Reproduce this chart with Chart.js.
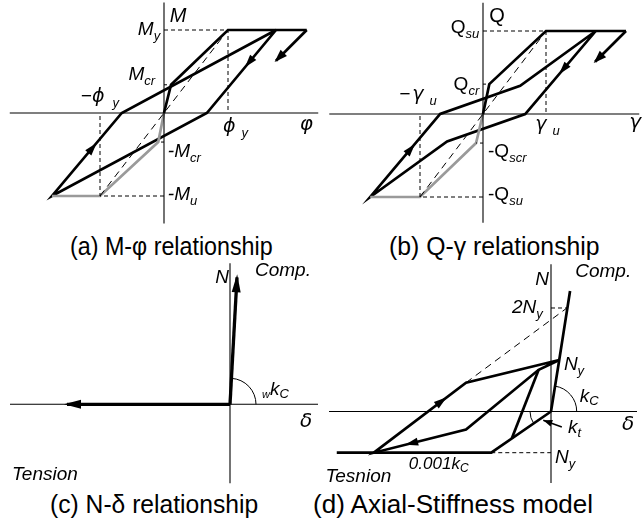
<!DOCTYPE html>
<html>
<head>
<meta charset="utf-8">
<script src="https://cdn.jsdelivr.net/npm/chart.js@4.4.0/dist/chart.umd.min.js"></script>
<style>
  body { margin: 0; background: #fff; width: 644px; height: 527px; position: relative; overflow: hidden; }
  canvas { position: absolute; }
  .cap { position: absolute; font: 25px "Liberation Sans", Arial, sans-serif; line-height: 25px; white-space: nowrap; color: #000; }
</style>
</head>
<body>
<canvas id="pa" width="322" height="230" style="left:0;top:0"></canvas>
<canvas id="pb" width="322" height="230" style="left:322px;top:0"></canvas>
<canvas id="pc" width="322" height="223" style="left:0;top:262px"></canvas>
<canvas id="pd" width="322" height="223" style="left:322px;top:262px"></canvas>
<div class="cap" data-cx="171.5" data-w="203" style="top:234px">(a) M-φ relationship</div>
<div class="cap" data-cx="494.5" data-w="211" style="top:234px">(b) Q-γ relationship</div>
<div class="cap" data-cx="154" data-w="208" style="top:492px">(c) N-δ relationship</div>
<div class="cap" data-cx="453" data-w="280" style="top:492px">(d) Axial-Stiffness model</div>
<script>
// (a) M-phi, x in phi/phi_y, y in M/M_y
const aAxisX = [[-2.41, 0], [2.41, 0]];
const aAxisY = [[0, -1.33], [0, 1.33]];
const aSkeleton = [[0, 0], [0.11, 0.34], [1, 1], [1.75, 1], [2.23, 1]];
const aNegSkeleton = [[0, 0], [-0.09, -0.35], [-1, -1], [-1.75, -1]];
const aLoop = [[1.75, 1], [0.67, 0], [-1.75, -1], [-0.66, 0], [1.75, 1]];
const aUnload = [[2.23, 1], [1.75, 0.63]];
const aYield = [[0, 1], [1, 1], [1, 0]];
const aUlt = [[0, -1], [-1, -1], [-1, 0]];
const aSecant = [[-1, -1], [1, 1]];
const aCrack = [[0, 0.34], [0.11, 0.34]];
const aNegCrack = [[0, -0.35], [-0.09, -0.35]];

// (b) Q-gamma, x in gamma/gamma_u, y in Q/Q_su
const bAxisX = [[-2.44, 0], [2.48, 0]];
const bAxisY = [[0, -1.31], [0, 1.34]];
const bSkeleton = [[0, 0], [0.1, 0.36], [1, 1], [1.79, 1], [2.27, 1]];
const bNegSkeleton = [[0, 0], [-0.11, -0.35], [-1, -1], [-1.79, -1]];
const bLoop = [[1.79, 1], [0.67, 0], [-0.57, -0.33], [-1.79, -1], [-0.68, 0], [0.59, 0.34], [1.79, 1]];
const bUnload = [[2.27, 1], [1.78, 0.63]];
const bYield = [[0, 1], [1, 1], [1, 0]];
const bUlt = [[0, -1], [-1, -1], [-1, 0]];
const bSecant = [[-1, -1], [1, 1]];
const bCrack = [[0, 0.36], [0.1, 0.36]];
const bNegCrack = [[0, -0.35], [-0.11, -0.35]];

// (c) N-delta
const cAxisX = [[-2.2, 0], [0.88, 0]];
const cAxisY = [[0, -0.79], [0, 1.41]];
const cComp = [[0, 0], [0.07, 1.27]];
const cTens = [[0, 0], [-1.63, 0]];

// (d) axial stiffness, y in N/N_y
const dAxisX = [[-4.31, 0], [1.67, 0]];
const dAxisY = [[0, -1.39], [0, 2.86]];
const dComp = [[0, 0], [0.16, 1], [0.37, 2.34]];
const dTens = [[-4.16, -0.8], [-1.16, -0.8], [0, 0]];
const dLoop = [[0.16, 1], [-0.24, 0.81], [-1.65, -0.35], [-3.44, -0.8], [-1.65, 0.56], [0.16, 1]];
const dBranch = [[-0.24, 0.81], [-0.76, -0.52]];
const dReload = [[-1.65, 0.56], [0.31, 2.01]];
const d2Ny = [[0, 2.01], [0.31, 2.01]];
const dNegNy = [[-1.16, -0.8], [0, -0.8]];
const dKtArrow = [[0.21, -0.3], [-0.15, -0.17]];

const pts = (a) => a.map((p) => ({ x: p[0], y: p[1] }));
function line(data, o) {
  return Object.assign({
    data: pts(data), showLine: true, pointRadius: 0, borderColor: "#000",
    borderWidth: 2.7, fill: false, tension: 0, clip: false, borderJoinStyle: "miter",
  }, o);
}
const axis = (d) => line(d, { borderWidth: 1.1 });
const dash = (d, p) => line(d, { borderWidth: 1, borderDash: p || [4, 3] });
const gray = (d) => line(d, { borderColor: "#9a9a9a" });

// arrows, arcs and labels on top of the lines
function diagram(ex) {
  return {
    id: "diagram",
    afterDatasetsDraw(chart) {
      const ctx = chart.ctx;
      const sx = chart.scales.x, sy = chart.scales.y;
      const px = (p) => [sx.getPixelForValue(p[0]), sy.getPixelForValue(p[1])];
      ctx.save();
      ctx.fillStyle = "#000";
      ctx.strokeStyle = "#000";
      (ex.arcs || []).forEach((a) => {
        const c = px([0, 0]), p = px(a.from), q = px(a.to);
        ctx.beginPath();
        ctx.lineWidth = 1;
        ctx.arc(c[0], c[1], a.r, Math.atan2(p[1] - c[1], p[0] - c[0]), Math.atan2(q[1] - c[1], q[0] - c[0]));
        ctx.stroke();
      });
      (ex.arrows || []).forEach((a) => {
        const p0 = px(a.on[a.seg]), p1 = px(a.on[a.seg + 1]);
        const dx = p1[0] - p0[0], dy = p1[1] - p0[1], L = Math.hypot(dx, dy);
        const ux = dx / L, uy = dy / L, ext = a.ext || 0;
        const tx = p0[0] + dx * a.t + ux * ext, ty = p0[1] + dy * a.t + uy * ext;
        const bx = tx - ux * a.len, by = ty - uy * a.len;
        ctx.beginPath();
        ctx.moveTo(tx, ty);
        ctx.lineTo(bx - uy * a.w / 2, by + ux * a.w / 2);
        ctx.lineTo(bx + uy * a.w / 2, by - ux * a.w / 2);
        ctx.closePath();
        ctx.fill();
      });
      ctx.textBaseline = "alphabetic";
      (ex.labels || []).forEach((l) => {
        const fam = '"Liberation Sans", Arial, sans-serif';
        // part: [text, size, dy, dx, family, style]
        const font = (pt) => (pt[5] || (l.up ? "" : "italic")) + " " + pt[1] + "px " + (pt[4] || fam);
        let total = 0;
        l.parts.forEach((pt) => { ctx.font = font(pt); total += ctx.measureText(pt[0]).width + (pt[3] || 0); });
        const a = px(l.at);
        let x = l.right ? a[0] - total : a[0];
        l.parts.forEach((pt) => {
          ctx.font = font(pt);
          x += pt[3] || 0;
          ctx.fillText(pt[0], x, a[1] + (pt[2] || 0));
          x += ctx.measureText(pt[0]).width;
        });
      });
      ctx.restore();
    },
  };
}

function panel(id, lay, datasets, ex) {
  const cv = document.getElementById(id);
  const w = cv.width, h = cv.height;
  return new Chart(cv, {
    type: "scatter",
    data: { datasets },
    options: {
      responsive: false,
      animation: false,
      events: [],
      layout: { padding: 0 },
      plugins: { legend: { display: false }, tooltip: { enabled: false } },
      scales: {
        x: { type: "linear", display: false, min: -lay.ox / lay.ux, max: (w - lay.ox) / lay.ux },
        y: { type: "linear", display: false, min: -(h - lay.oy) / lay.uy, max: lay.oy / lay.uy },
      },
    },
    plugins: [diagram(ex)],
  });
}

const SUB = 13, MAIN = 19;
const PHI = '"DejaVu Sans", sans-serif';

panel("pa", { ox: 164, oy: 113, ux: 64, uy: 83 }, [
  axis(aAxisX), axis(aAxisY),
  dash(aYield), dash(aUlt), dash(aSecant, [7, 5]), dash(aCrack, [3, 3]), dash(aNegCrack, [3, 3]),
  gray(aNegSkeleton), line(aSkeleton), line(aLoop), line(aUnload),
], {
  arrows: [
    { on: aLoop, seg: 0, t: 0.45, len: 13, w: 8 },
    { on: aLoop, seg: 2, t: 0.64, len: 13, w: 8 },
    { on: aUnload, seg: 0, t: 1, len: 13, w: 9, ext: 2 },
  ],
  labels: [
    { at: [0.09, 1.1], parts: [["M", 20]] },
    { at: [-0.06, 0.94], right: true, parts: [["M", MAIN], ["y", SUB, 5]] },
    { at: [-0.14, 0.4], right: true, parts: [["M", MAIN], ["cr", SUB, 5]] },
    { at: [-1.3, 0.13], parts: [["−", MAIN], ["ϕ", MAIN, 0, 0, PHI], ["y", SUB, 5, 8]] },
    { at: [0.92, -0.23], parts: [["ϕ", MAIN, 0, 0, PHI], ["y", SUB, 5, 6]] },
    { at: [2.12, -0.2], parts: [["φ", 20, 0, 0, PHI]] },
    { at: [0.06, -0.53], parts: [["-M", MAIN], ["cr", SUB, 5]] },
    { at: [0.06, -1.05], parts: [["-M", MAIN], ["u", SUB, 5]] },
  ],
});

panel("pb", { ox: 161, oy: 114, ux: 63, uy: 83 }, [
  axis(bAxisX), axis(bAxisY),
  dash(bYield), dash(bUlt), dash(bSecant, [7, 5]), dash(bCrack, [3, 3]), dash(bNegCrack, [3, 3]),
  gray(bNegSkeleton), line(bSkeleton), line(bLoop), line(bUnload),
], {
  arrows: [
    { on: bLoop, seg: 0, t: 0.52, len: 13, w: 8 },
    { on: bLoop, seg: 3, t: 0.64, len: 13, w: 8 },
    { on: bUnload, seg: 0, t: 1, len: 13, w: 9, ext: 2 },
  ],
  labels: [
    { at: [0.1, 1.11], up: true, parts: [["Q", 20]] },
    { at: [-0.06, 0.98], right: true, up: true, parts: [["Q", MAIN], ["su", SUB, 5, 0, null, "italic"]] },
    { at: [-0.06, 0.29], right: true, up: true, parts: [["Q", MAIN], ["cr", SUB, 5, 0, null, "italic"]] },
    { at: [-1.33, 0.17], parts: [["−", MAIN], ["γ", MAIN, 0, 2, PHI], ["u", SUB, 5, 6]] },
    { at: [0.83, -0.19], parts: [["γ", MAIN, 0, 0, PHI], ["u", SUB, 5, 6]] },
    { at: [2.32, -0.17], parts: [["γ", 20, 0, 0, PHI]] },
    { at: [0.08, -0.52], up: true, parts: [["-Q", MAIN], ["scr", SUB, 5, 0, null, "italic"]] },
    { at: [0.08, -1.04], up: true, parts: [["-Q", MAIN], ["su", SUB, 5, 0, null, "italic"]] },
  ],
});

panel("pc", { ox: 230, oy: 142.3, ux: 100, uy: 100 }, [
  axis(cAxisX), axis(cAxisY),
  line(cComp, { borderWidth: 3.3 }), line(cTens, { borderWidth: 3.3 }),
], {
  arcs: [{ r: 26, from: cComp[1], to: [1, 0] }],
  arrows: [
    { on: cComp, seg: 0, t: 1, len: 18, w: 9, ext: 3 },
    { on: cTens, seg: 0, t: 1, len: 17, w: 9, ext: 3 },
  ],
  labels: [
    { at: [-0.01, 1.21], right: true, parts: [["N", MAIN]] },
    { at: [0.25, 1.28], parts: [["Comp.", MAIN]] },
    { at: [0.32, 0.09], parts: [["w", 11, 3], ["k", MAIN], ["C", SUB, 3]] },
    { at: [0.7, -0.23], parts: [["δ", 20, 0, 0, PHI]] },
    { at: [-2.18, -0.76], parts: [["Tension", MAIN]] },
  ],
});

panel("pd", { ox: 229, oy: 149.5, ux: 51.5, uy: 51.5 }, [
  axis(dAxisX), axis(dAxisY),
  dash(dReload, [7, 5]), dash(d2Ny), dash(dNegNy),
  line(dComp), line(dTens), line(dLoop), line(dBranch),
  line(dKtArrow, { borderWidth: 1.5 }),
], {
  arcs: [
    { r: 25.7, from: dComp[2], to: [1, 0] },
    { r: 21, from: dTens[1], to: [-1, 0] },
  ],
  arrows: [
    { on: dLoop, seg: 2, t: 0.66, len: 13, w: 8 },
    { on: dLoop, seg: 3, t: 0.79, len: 13, w: 8 },
    { on: dKtArrow, seg: 0, t: 1, len: 9, w: 7 },
  ],
  labels: [
    { at: [-0.04, 2.46], right: true, parts: [["N", MAIN]] },
    { at: [0.47, 2.61], parts: [["Comp.", MAIN]] },
    { at: [-0.16, 1.91], right: true, parts: [["2N", MAIN], ["y", SUB, 5]] },
    { at: [0.25, 0.81], parts: [["N", MAIN], ["y", SUB, 5]] },
    { at: [0.56, 0.18], parts: [["k", MAIN], ["C", SUB, 3]] },
    { at: [1.38, -0.36], parts: [["δ", 20, 0, 0, PHI]] },
    { at: [0.33, -0.42], parts: [["k", MAIN], ["t", SUB, 4]] },
    { at: [0.08, -1.0], parts: [["N", MAIN], ["y", SUB, 5]] },
    { at: [-2.76, -1.12], parts: [["0.001k", 17], ["C", 12, 3]] },
    { at: [-4.38, -1.36], parts: [["Tesnion", MAIN]] },
  ],
});

// fit each caption to its width in the reference, centred under its panel
document.querySelectorAll(".cap").forEach((el) => {
  const cx = +el.dataset.cx, w = +el.dataset.w;
  const k = w / el.offsetWidth;
  el.style.left = (cx - w / 2) + "px";
  el.style.transformOrigin = "0 0";
  el.style.transform = "scaleX(" + k + ")";
});
</script>
</body>
</html>
